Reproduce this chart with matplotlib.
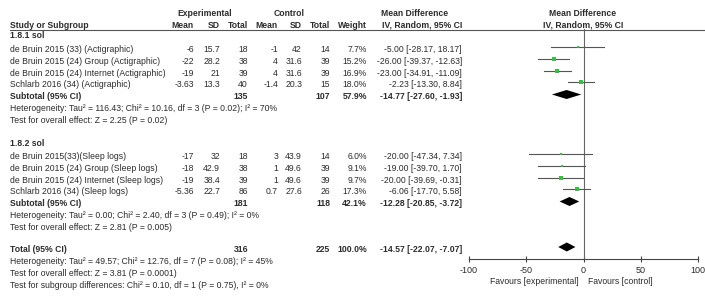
import matplotlib
matplotlib.use("Agg")
import matplotlib.pyplot as plt

plt.rcParams['font.family'] = ['Liberation Sans', 'DejaVu Sans']
plt.rcParams['axes.unicode_minus'] = False

# ---- data ----
studies1 = ["de Bruin 2015 (33) (Actigraphic)", "de Bruin 2015 (24) Group (Actigraphic)",
            "de Bruin 2015 (24) Internet (Actigraphic)", "Schlarb 2016 (34) (Actigraphic)"]
exp_mean1 = ["-6", "-22", "-19", "-3.63"]
exp_sd1 = ["15.7", "28.2", "21", "13.3"]
exp_n1 = [18, 38, 39, 40]
ctl_mean1 = ["-1", "4", "4", "-1.4"]
ctl_sd1 = ["42", "31.6", "31.6", "20.3"]
ctl_n1 = [14, 39, 39, 15]
weight1 = [7.7, 15.2, 16.9, 18.0]
md1 = [-5.00, -26.00, -23.00, -2.23]
lo1 = [-28.17, -39.37, -34.91, -13.30]
hi1 = [18.17, -12.63, -11.09, 8.84]

studies2 = ["de Bruin 2015(33)(Sleep logs)", "de Bruin 2015 (24) Group (Sleep logs)",
            "de Bruin 2015 (24) Internet (Sleep logs)", "Schlarb 2016 (34) (Sleep logs)"]
exp_mean2 = ["-17", "-18", "-19", "-5.36"]
exp_sd2 = ["32", "42.9", "38.4", "22.7"]
exp_n2 = [18, 38, 39, 86]
ctl_mean2 = ["3", "1", "1", "0.7"]
ctl_sd2 = ["43.9", "49.6", "49.6", "27.6"]
ctl_n2 = [14, 39, 39, 26]
weight2 = [6.0, 9.1, 9.7, 17.3]
md2 = [-20.00, -19.00, -20.00, -6.06]
lo2 = [-47.34, -39.70, -39.69, -17.70]
hi2 = [7.34, 1.70, -0.31, 5.58]

# subtotal / total: (md, lo, hi, n_exp, n_ctl, weight)
sub1 = (-14.77, -27.60, -1.93, 135, 107, 57.9)
sub2 = (-12.28, -20.85, -3.72, 181, 118, 42.1)
total = (-14.57, -22.07, -7.07, 316, 225, 100.0)

het1 = ["Heterogeneity: Tau² = 116.43; Chi² = 10.16, df = 3 (P = 0.02); I² = 70%",
        "Test for overall effect: Z = 2.25 (P = 0.02)"]
het2 = ["Heterogeneity: Tau² = 0.00; Chi² = 2.40, df = 3 (P = 0.49); I² = 0%",
        "Test for overall effect: Z = 2.81 (P = 0.005)"]
het_tot = ["Heterogeneity: Tau² = 49.57; Chi² = 12.76, df = 7 (P = 0.08); I² = 45%",
           "Test for overall effect: Z = 3.81 (P = 0.0001)",
           "Test for subgroup differences: Chi² = 0.10, df = 1 (P = 0.75), I² = 0%"]

xticks = [-100, -50, 0, 50, 100]

# ---- layout (pixel coordinates of a 705x296 canvas) ----
W, H = 705, 296
FS = 6.2
TXT = '#2b2b2b'
GREEN = '#3dbb4a'
col_right = dict(em=194, esd=220, en=248, cm=278, csd=302, cn=330, w=367, ci=462)

fig = plt.figure(figsize=(W / 100, H / 100), dpi=100)
tab = fig.add_axes([0, 0, 1, 1])
tab.set_xlim(0, W)
tab.set_ylim(H, 0)
tab.axis('off')

ax_l, ax_r, ax_t, ax_b = 469, 698, 29, 259
fax = fig.add_axes([ax_l / W, 1 - ax_b / H, (ax_r - ax_l) / W, (ax_b - ax_t) / H])
fax.set_xlim(-100, 100)
fax.set_ylim(ax_b, ax_t)
fax.patch.set_alpha(0)
for s in ['top', 'left', 'right']:
    fax.spines[s].set_visible(False)
fax.spines['bottom'].set_color('#444')
fax.spines['bottom'].set_linewidth(0.8)
fax.set_yticks([])
fax.set_xticks(xticks)
fax.tick_params(axis='x', direction='inout', length=5, width=0.8, color='#444',
                labelsize=FS + 0.3, labelcolor=TXT, pad=2.5)
fax.axvline(0, color='#666', lw=0.8)


def t(x, y, s, ha='left', bold=False):
    tab.text(x, y, s, ha=ha, va='center', fontsize=FS, color=TXT,
             fontweight='bold' if bold else 'normal')


def ci_text(md, lo, hi):
    return f"{md:.2f} [{lo:.2f}, {hi:.2f}]"


# headers
t(205, 14, "Experimental", ha='center', bold=True)
t(289, 14, "Control", ha='center', bold=True)
t(415, 14, "Mean Difference", ha='center', bold=True)
t(583, 14, "Mean Difference", ha='center', bold=True)
t(10, 25, "Study or Subgroup", bold=True)
for key, lab in [('em', 'Mean'), ('esd', 'SD'), ('en', 'Total'), ('cm', 'Mean'),
                 ('csd', 'SD'), ('cn', 'Total'), ('w', 'Weight'), ('ci', 'IV, Random, 95% CI')]:
    t(col_right[key], 25, lab, ha='right', bold=True)
t(583, 25, "IV, Random, 95% CI", ha='center', bold=True)
tab.plot([10, W], [29.5, 29.5], color='#555', lw=0.8)


def draw_summary(label, y, s):
    md, lo, hi, ne, nc, w = s
    t(10, y, label, bold=True)
    t(col_right['en'], y, str(ne), ha='right', bold=True)
    t(col_right['cn'], y, str(nc), ha='right', bold=True)
    t(col_right['w'], y, f"{w:.1f}%", ha='right', bold=True)
    t(col_right['ci'], y, ci_text(md, lo, hi), ha='right', bold=True)
    fy = y - 2
    fax.fill([lo, md, hi, md], [fy, fy - 4.5, fy, fy + 4.5], color='black', lw=0, zorder=3)


def group(label, y0, names, em, esd, en, cm, csd, cn, wt, md, lo, hi, sub, het):
    t(10, y0, label, bold=True)
    ys = [y0 + 13.7 + 11.7 * i for i in range(len(names))]
    for i, y in enumerate(ys):
        t(10, y, names[i])
        t(col_right['em'], y, em[i], ha='right')
        t(col_right['esd'], y, esd[i], ha='right')
        t(col_right['en'], y, str(en[i]), ha='right')
        t(col_right['cm'], y, cm[i], ha='right')
        t(col_right['csd'], y, csd[i], ha='right')
        t(col_right['cn'], y, str(cn[i]), ha='right')
        t(col_right['w'], y, f"{wt[i]:.1f}%", ha='right')
        t(col_right['ci'], y, ci_text(md[i], lo[i], hi[i]), ha='right')
        fy = y - 2.5
        fax.plot([lo[i], hi[i]], [fy, fy], color='#555', lw=0.8, zorder=2)
        fax.plot(md[i], fy, 's', color=GREEN, ms=0.7 * wt[i] ** 0.5, mew=0, zorder=3)
    ys_sub = ys[-1] + 11.7
    draw_summary("Subtotal (95% CI)", ys_sub, sub)
    t(10, ys_sub + 11.7, het[0])
    t(10, ys_sub + 23.7, het[1])


group("1.8.1 sol", 36, studies1, exp_mean1, exp_sd1, exp_n1, ctl_mean1, ctl_sd1, ctl_n1,
      weight1, md1, lo1, hi1, sub1, het1)
group("1.8.2 sol", 143, studies2, exp_mean2, exp_sd2, exp_n2, ctl_mean2, ctl_sd2, ctl_n2,
      weight2, md2, lo2, hi2, sub2, het2)

draw_summary("Total (95% CI)", 249, total)
for i, line in enumerate(het_tot):
    t(10, 261.5 + 12 * i, line)

fax.text(-4, 281, "Favours [experimental]", ha='right', va='center', fontsize=FS,
         color=TXT, clip_on=False)
fax.text(4, 281, "Favours [control]", ha='left', va='center', fontsize=FS,
         color=TXT, clip_on=False)

fig.savefig("out.png", dpi=100)
